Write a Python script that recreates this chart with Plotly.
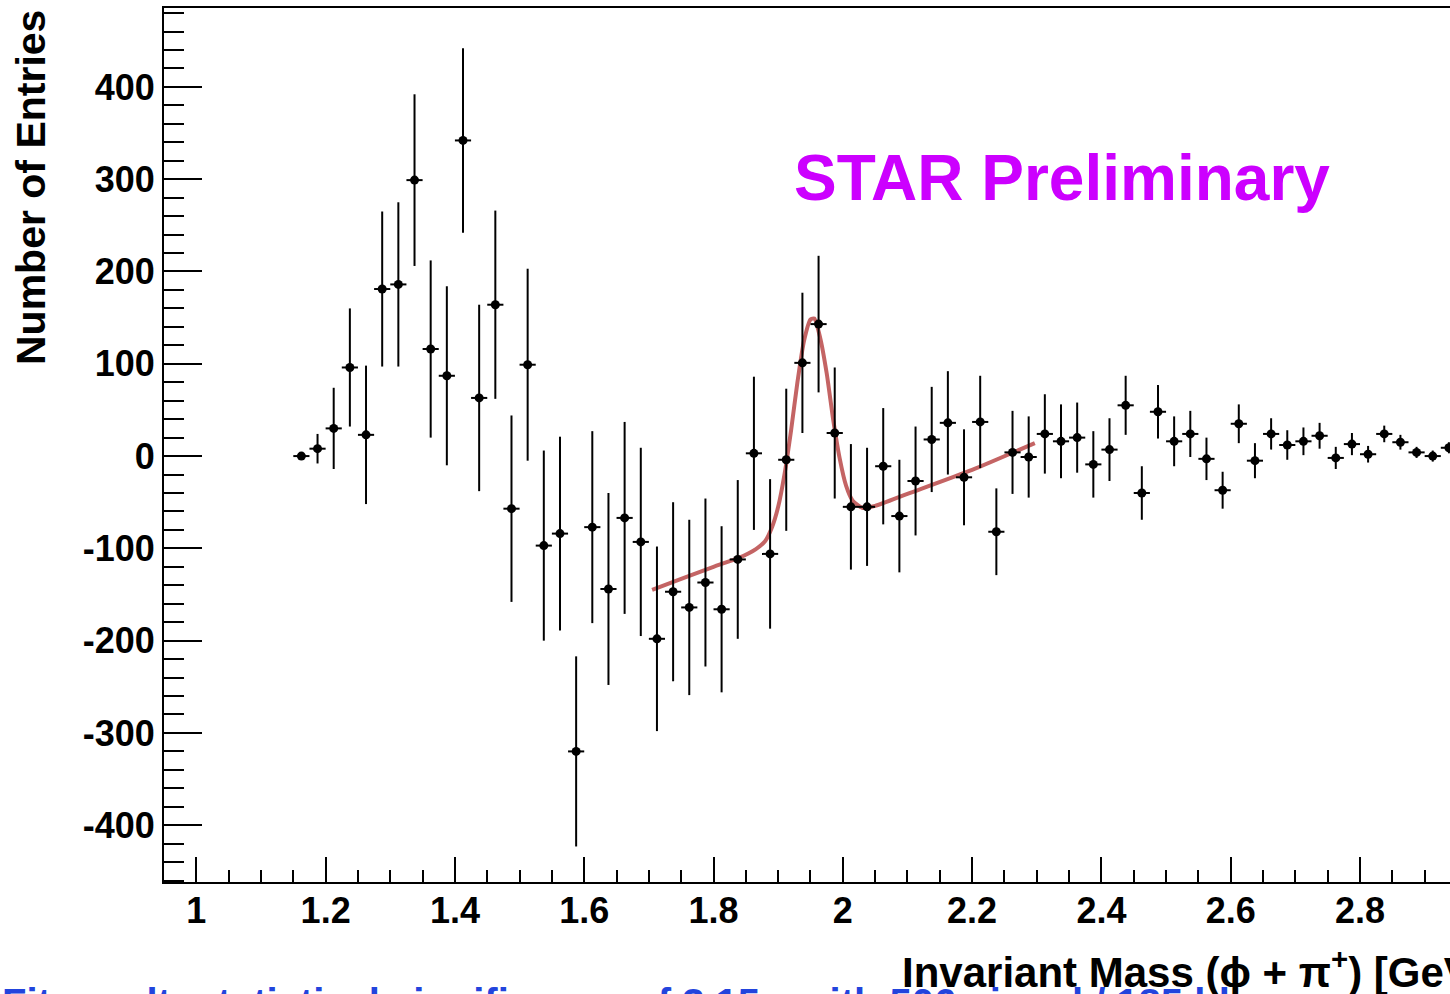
import plotly.graph_objects as go

# ---- data ----
mass_bins = [1.1625, 1.1875, 1.2125, 1.2375, 1.2625, 1.2875, 1.3125, 1.3375, 1.3625, 1.3875,
             1.4125, 1.4375, 1.4625, 1.4875, 1.5125, 1.5375, 1.5625, 1.5875, 1.6125, 1.6375,
             1.6625, 1.6875, 1.7125, 1.7375, 1.7625, 1.7875, 1.8125, 1.8375, 1.8625, 1.8875,
             1.9125, 1.9375, 1.9625, 1.9875, 2.0125, 2.0375, 2.0625, 2.0875, 2.1125, 2.1375,
             2.1625, 2.1875, 2.2125, 2.2375, 2.2625, 2.2875, 2.3125, 2.3375, 2.3625, 2.3875,
             2.4125, 2.4375, 2.4625, 2.4875, 2.5125, 2.5375, 2.5625, 2.5875, 2.6125, 2.6375,
             2.6625, 2.6875, 2.7125, 2.7375, 2.7625, 2.7875, 2.8125, 2.8375, 2.8625, 2.8875,
             2.9125, 2.9375]
entries = [0, 8, 30, 96, 23, 181, 186, 299, 116, 87,
           342, 63, 164, -57, 99, -97, -84, -320, -77, -144,
           -67, -93, -198, -147, -164, -137, -166, -112, 3, -106,
           -4, 101, 143, 25, -55, -55, -11, -65, -27, 18,
           36, -23, 37, -82, 4, -1, 24, 16, 20, -9,
           7, 55, -40, 48, 16, 24, -3, -37, 35, -5,
           24, 12, 16, 22, -2, 13, 2, 24, 15, 4,
           0, 9]
entry_err = [3, 16, 44, 64, 75, 84, 89, 93, 96, 97,
             100, 101, 102, 101, 104, 103, 105, 103, 104, 104,
             104, 102, 100, 97, 95, 91, 90, 86, 83, 81,
             77, 76, 74, 71, 68, 64, 63, 61, 59, 57,
             56, 52, 50, 47, 45, 44, 43, 40, 38, 36,
             34, 32, 29, 29, 27, 25, 23, 20, 21, 19,
             17, 16, 15, 14, 12, 12, 9, 9, 8, 6,
             6, 6]
half_bin = [0.0125] * len(mass_bins)

fit_x = [1.705, 1.75, 1.80, 1.84, 1.865, 1.88, 1.89, 1.90, 1.91, 1.92, 1.93, 1.94, 1.95,
         1.956, 1.965, 1.975, 1.985, 1.995, 2.005, 2.015, 2.03, 2.05, 2.10, 2.20, 2.297]
fit_y = [-145, -133, -120, -110, -101, -92, -78, -55, -19, 28, 81, 125, 148,
         149, 128, 90, 40, -2, -32, -48, -56, -54, -41, -15, 14]

x_tick_vals = [1.0, 1.2, 1.4, 1.6, 1.8, 2.0, 2.2, 2.4, 2.6, 2.8]
x_tick_text = ["1", "1.2", "1.4", "1.6", "1.8", "2", "2.2", "2.4", "2.6", "2.8"]
y_tick_vals = [-400, -300, -200, -100, 0, 100, 200, 300, 400]
y_tick_text = ["-400", "-300", "-200", "-100", "0", "100", "200", "300", "400"]

FONT = "Liberation Sans, Arial, Helvetica, sans-serif"

fig = go.Figure()

fig.add_trace(go.Scatter(
    x=fit_x, y=fit_y, mode="lines",
    line=dict(color="#C46464", width=4, shape="spline", smoothing=0.6),
    hoverinfo="skip", showlegend=False))

fig.add_trace(go.Scatter(
    x=mass_bins, y=entries, mode="markers",
    marker=dict(color="black", size=9, symbol="circle"),
    error_y=dict(type="data", array=entry_err, visible=True, color="black", thickness=2, width=0),
    error_x=dict(type="data", array=half_bin, visible=True, color="black", thickness=2, width=0),
    showlegend=False))

fig.update_layout(
    width=1450, height=994,
    margin=dict(l=164, r=0, t=8, b=112),
    paper_bgcolor="white", plot_bgcolor="white",
    font=dict(family=FONT, color="black"),
    showlegend=False,
)

fig.update_xaxes(
    range=[0.95, 2.9392], showgrid=False, zeroline=False,
    showline=True, linewidth=2, linecolor="black", mirror=True,
    ticks="inside", ticklen=25, tickwidth=2, tickcolor="black",
    tickmode="array", tickvals=x_tick_vals, ticktext=x_tick_text,
    ticklabelstandoff=-4,
    tickfont=dict(family=FONT, size=36, color="black", weight="bold"),
    minor=dict(ticks="inside", ticklen=12, tickwidth=2, tickcolor="black",
               tickmode="linear", tick0=0.95, dtick=0.05, showgrid=False),
)
fig.update_yaxes(
    range=[-461.5, 485.5], showgrid=False, zeroline=False,
    showline=True, linewidth=2, linecolor="black", mirror=False,
    ticks="inside", ticklen=38, tickwidth=2, tickcolor="black",
    tickmode="array", tickvals=y_tick_vals, ticktext=y_tick_text,
    tickfont=dict(family=FONT, size=36, color="black", weight="bold"),
    minor=dict(ticks="inside", ticklen=20, tickwidth=2, tickcolor="black",
               tickmode="linear", tick0=0, dtick=20, showgrid=False),
)

fig.add_annotation(
    text="STAR Preliminary", x=1.9213, y=301, xref="x", yref="y",
    xanchor="left", yanchor="middle", showarrow=False,
    font=dict(family=FONT, size=64, color="#CC00FF", weight="bold"))

fig.add_annotation(
    text="Number of Entries", x=-0.1034, y=0.7941, xref="paper", yref="paper",
    xanchor="center", yanchor="middle", textangle=-90, showarrow=False,
    font=dict(family=FONT, size=41, color="black", weight="bold"))

# blue caption at the very bottom, mostly cut off by the page edge (as in the reference)
fig.add_annotation(
    text="Fit result: statistical significance of 3.15σ with 506 signal / 185 bkg",
    x=-0.1275, y=-0.1390, xref="paper", yref="paper", xanchor="left", yanchor="middle",
    showarrow=False, font=dict(family=FONT, size=40, color="#2244DD", weight="bold"))

fig.add_annotation(
    text="Invariant Mass (ϕ + π<sup>+</sup>) [GeV]", x=0.5723, y=-0.1000,
    xref="paper", yref="paper", xanchor="left", yanchor="middle", showarrow=False,
    bgcolor="rgba(255,255,255,0)",
    font=dict(family=FONT, size=42, color="black", weight="bold"))

fig.write_html("out.html")
